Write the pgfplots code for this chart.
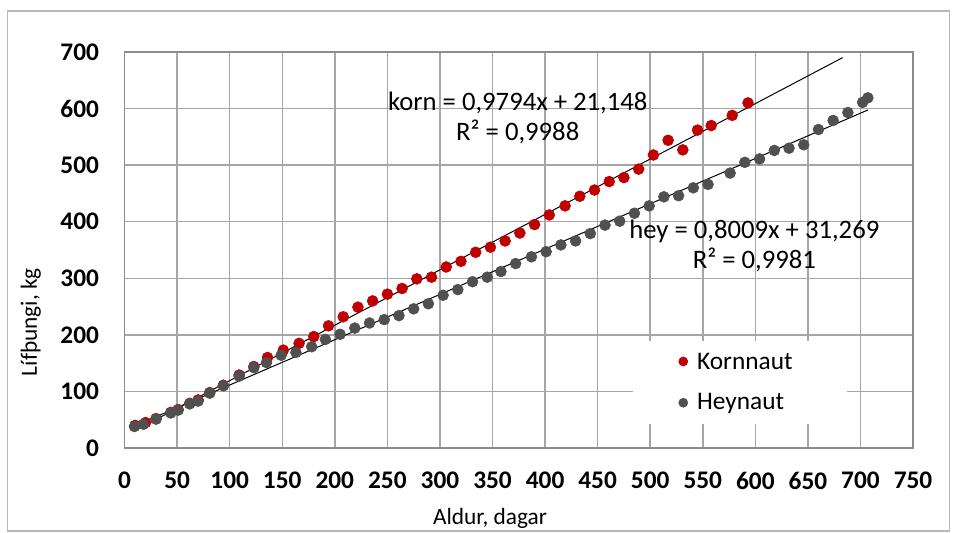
\documentclass[border=0pt]{standalone}
\usepackage{fontspec}
\setmainfont{Carlito}
\usepackage{pgfplots}
\pgfplotsset{compat=1.18}
\definecolor{kornred}{RGB}{192,0,0}
\definecolor{heygray}{RGB}{80,80,80}
\definecolor{gridgray}{RGB}{166,166,166}
\definecolor{framegray}{RGB}{140,140,140}
\begin{document}
\begin{tikzpicture}
\useasboundingbox (-93.4pt,-63pt) rectangle (623.6pt,336pt);
\draw[gridgray!80, line width=0.8pt] (-88.1pt,-62.25pt) rectangle (618.4pt,327.75pt);
\begin{axis}[
 at={(0,0)}, anchor=south west, scale only axis,
 width=591.4pt, height=297pt,
 xmin=0, xmax=750, ymin=0, ymax=700,
 xtick={0,50,...,750}, ytick={0,100,...,700},
 grid=major, major grid style={gridgray, line width=1.1pt},
 axis line style={framegray, line width=1.3pt},
 major tick length=0pt,
 tick label style={font=\fontsize{19}{23}\selectfont\bfseries},
 /pgf/number format/assume math mode=true,
 xticklabel style={anchor=north, inner sep=0pt, yshift=-18pt},
 yticklabel style={anchor=east, inner sep=0pt, xshift=-19pt},
 xlabel={Aldur, dagar}, ylabel={Lífþungi, kg},
 label style={font=\fontsize{17.5}{20}\selectfont},
 xlabel style={at={(axis description cs:0.4635,-0.177)}, anchor=center},
 ylabel style={at={(axis description cs:-0.119,0.318)}, anchor=center},
 legend style={at={(0.645,0.270)}, anchor=north west, draw=none, fill=white,
   font=\fontsize{19}{23}\selectfont, inner xsep=34pt, inner ysep=7pt,
   row sep=14pt, nodes={inner sep=2pt}},
 legend cell align=left,
 legend image post style={mark size=3.4pt},
 clip=false,
]
\addplot[only marks, mark=*, mark size=4.1pt, color=kornred] coordinates {
(10,40)(20,45)(30,52)(44,63)(51,68)(62,79)(70,85)(81,98)(94,111)(109,129)
(123,144)(136,160)(151,173)(166,185)(180,197)(194,216)(208,232)(222,249)(236,260)(250,272)
(264,282)(278,299)(292,302)(306,320)(320,330)(334,346)(348,355)(362,366)(376,380)(390,395)
(404,412)(419,428)(433,445)(447,456)(461,471)(475,478)(489,493)(503,518)(517,544)(531,527)
(545,562)(558,570)(578,588)(593,610)};
\addlegendentry[text depth=0pt, inner xsep=7pt]{Kornnaut}
\addplot[only marks, mark=*, mark size=4.1pt, color=heygray] coordinates {
(9.5,38)(18,42)(30,51)(44,62)(51,67)(62,78)(70,83)(81,97)(94,110)(109,127)
(123,142)(135,151)(149,164)(163,169)(178,179)(191,192)(205,201)(219,212)(233,221)(247,227)
(261,234)(275,246)(289,255)(303,270)(317,280)(331,294)(345,302)(358,312)(372,326)(387,338)
(401,347)(415,359)(429,366)(443,379)(457,394)(471,401)(485,415)(499,428)(513,444)(527,446)
(541,460)(555,466)(576,486)(590,505)(604,511)(618,526)(632,530)(646,536)(660,563)(674,579)
(688,593)(702,611)(707,619)};
\addlegendentry[inner xsep=7pt]{Heynaut}
\addplot[black, line width=0.75pt, forget plot] coordinates {(9.5,30.45)(683,690.08)};
\addplot[black, line width=0.75pt, forget plot] coordinates {(9.5,38.88)(707,597.5)};
\node[align=center, font=\fontsize{20}{22.5}\selectfont] at (axis cs:374,583) {korn = 0,9794x + 21,148\\R² = 0,9988};
\node[align=center, font=\fontsize{20}{22.5}\selectfont] at (axis cs:599,358) {hey = 0,8009x + 31,269\\R² = 0,9981};
\end{axis}
\end{tikzpicture}
\end{document}
